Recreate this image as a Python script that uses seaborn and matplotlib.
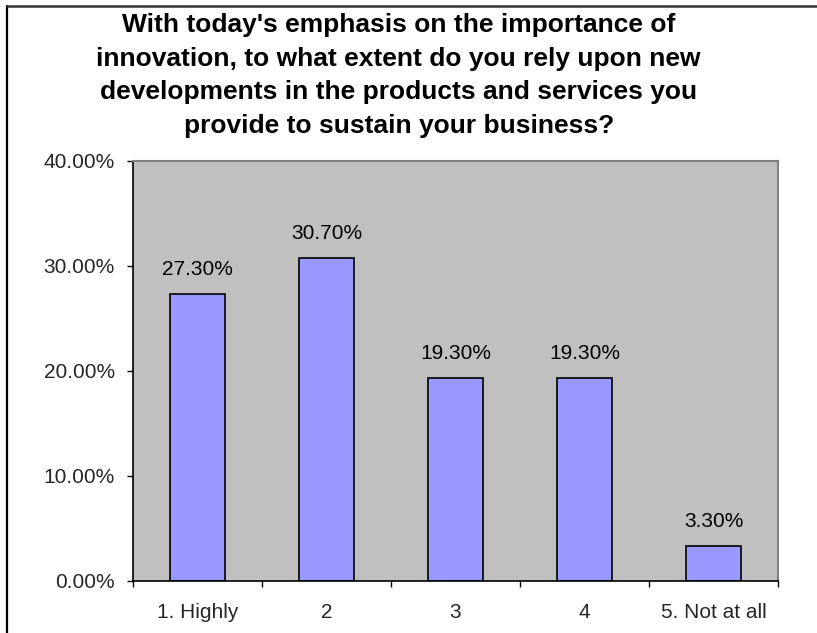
import matplotlib
matplotlib.use("Agg")
import matplotlib.pyplot as plt
from matplotlib.lines import Line2D
from matplotlib.ticker import FixedLocator, FuncFormatter
import pandas as pd
import seaborn as sns

categories = ["1. Highly", "2", "3", "4", "5. Not at all"]
shares = [27.3, 30.7, 19.3, 19.3, 3.3]
y_ticks = [0, 10, 20, 30, 40]
title = ("With today's emphasis on the importance of\n"
         "innovation, to what extent do you rely upon new\n"
         "developments in the products and services you\n"
         "provide to sustain your business?")

sns.set_theme(style="white")
plt.rcParams["font.family"] = ["Liberation Sans", "DejaVu Sans"]

df = pd.DataFrame({"category": categories, "share": shares})

fig = plt.figure(figsize=(8.17, 6.33), dpi=100)
ax = fig.add_axes([0.1628, 0.0826, 0.7895, 0.6635])
ax.set_facecolor("#C0C0C0")

sns.barplot(data=df, x="category", y="share", ax=ax, color="#9999FF",
            saturation=1, width=0.42, edgecolor="black", linewidth=1.2)

for i, v in enumerate(shares):
    ax.annotate(f"{v:.2f}%", (i, v), xytext=(0, 11), textcoords="offset points",
                ha="center", va="bottom", fontsize=15, color="black")

ax.set_ylim(0, 40)
ax.set_xlim(-0.5, len(categories) - 0.5)
ax.set_yticks(y_ticks)
ax.yaxis.set_major_formatter(FuncFormatter(lambda v, p: f"{v:.2f}%"))
ax.tick_params(axis="y", labelsize=15, length=4, width=1, color="black",
               direction="out", left=True, pad=9)

# category boundaries get the tick marks, names sit between them
ax.xaxis.set_major_locator(FixedLocator([i - 0.5 for i in range(len(categories) + 1)]))
ax.xaxis.set_major_formatter(FuncFormatter(lambda v, p: ""))
ax.xaxis.set_minor_locator(FixedLocator(list(range(len(categories)))))
ax.set_xticklabels(categories, minor=True)
ax.tick_params(axis="x", which="major", length=4, width=1, color="black",
               direction="out", bottom=True)
ax.tick_params(axis="x", which="minor", length=0, labelsize=15, pad=16)
ax.set_xlabel("")
ax.set_ylabel("")
ax.grid(False)

for side in ["left", "bottom"]:
    ax.spines[side].set_color("black")
    ax.spines[side].set_linewidth(1.2)
for side in ["top", "right"]:
    ax.spines[side].set_color("#808080")
    ax.spines[side].set_linewidth(1.5)
    ax.spines[side].set_visible(True)

fig.text(0.488, 0.881, title, ha="center", va="center", multialignment="center",
         fontsize=19, fontweight="bold", linespacing=1.5, color="black")

# chart-area frame (left and top edges)
fig.add_artist(Line2D([0.0085, 0.0085], [0, 0.9905], transform=fig.transFigure,
                      color="black", linewidth=1.6))
fig.add_artist(Line2D([0.0085, 1.0], [0.9905, 0.9905], transform=fig.transFigure,
                      color="#333333", linewidth=1.8))

fig.savefig("out.png", dpi=100)
